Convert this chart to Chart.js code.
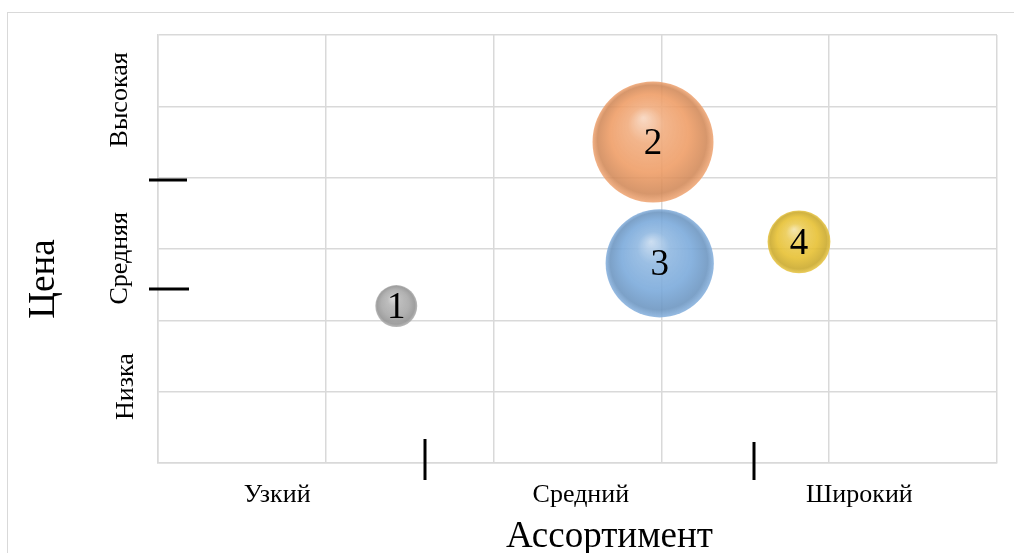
<!DOCTYPE html>
<html>
<head>
<meta charset="utf-8">
<script src="https://cdn.jsdelivr.net/npm/chart.js@4"></script>
<style>
  html, body { margin: 0; padding: 0; background: #fff; }
  #wrap { position: relative; width: 1014px; height: 553px; overflow: hidden; }
  #frame { position: absolute; left: 7px; top: 12px; width: 1100px; height: 600px; border: 1.5px solid #d9d9d9; box-sizing: border-box; }
  canvas { position: absolute; left: 0; top: 0; }
</style>
</head>
<body>
<div id="wrap"><div id="frame"></div><canvas id="c" width="1014" height="553"></canvas></div>
<script>
// ---- data ----
const labels = ['1', '2', '3', '4'];
const assortment = [1.42, 2.95, 2.99, 3.82];   // x values
const price = [2.20, 4.50, 2.80, 3.10];        // y values
const sizes = [12, 100, 80, 27];               // bubble size values
const baseColors = ['#a6a6a6', '#ee9b63', '#78a8da', '#e6bf2e'];
const xCatLabels = ['Узкий', 'Средний', 'Широкий'];
const xCatValues = [0.71, 2.52, 4.18];
const yCatLabels = ['Низка', 'Средняя', 'Высокая'];
const yCatValues = [1.07, 2.87, 5.09];
const xSeparators = [1.59, 3.55];
const ySeparators = [2.44, 3.97];
const xTitle = 'Ассортимент';
const yTitle = 'Цена';

const MAX_R = 60.5;
const maxSize = Math.max(...sizes);

function shade(hex, f) {
  const n = parseInt(hex.slice(1), 16);
  let r = (n >> 16) & 255, g = (n >> 8) & 255, b = n & 255;
  if (f >= 0) { r += (255 - r) * f; g += (255 - g) * f; b += (255 - b) * f; }
  else { r *= (1 + f); g *= (1 + f); b *= (1 + f); }
  return 'rgba(' + Math.round(r) + ',' + Math.round(g) + ',' + Math.round(b) + ',';
}

const points = labels.map((l, i) => ({ x: assortment[i], y: price[i], r: MAX_R * Math.sqrt(sizes[i] / maxSize) }));

const SERIF = "'Liberation Serif', 'Times New Roman', serif";

const overlay = {
  id: 'overlay',
  afterDatasetsDraw(chart) {
    const ctx = chart.ctx, xs = chart.scales.x, ys = chart.scales.y, area = chart.chartArea;
    ctx.save();
    // bubble numbers
    const meta = chart.getDatasetMeta(0);
    ctx.fillStyle = '#000';
    ctx.font = '37px ' + SERIF;
    ctx.textAlign = 'center';
    ctx.textBaseline = 'middle';
    meta.data.forEach((el, i) => { ctx.fillText(labels[i], el.x, el.y + 2); });
    // x category labels
    ctx.font = '26px ' + SERIF;
    ctx.textBaseline = 'alphabetic';
    xCatLabels.forEach((t, i) => ctx.fillText(t, xs.getPixelForValue(xCatValues[i]), area.bottom + 39));
    // y category labels (rotated)
    yCatLabels.forEach((t, i) => {
      ctx.save();
      ctx.translate(area.left - 31 + (i === 0 ? 6 : 0), ys.getPixelForValue(yCatValues[i]));
      ctx.rotate(-Math.PI / 2);
      ctx.fillText(t, 0, 0);
      ctx.restore();
    });
    // axis titles
    ctx.font = '37px ' + SERIF;
    ctx.fillText(xTitle, (area.left + area.right) / 2 + 32, area.bottom + 84);
    ctx.save();
    ctx.translate(area.left - 104, (area.top + area.bottom) / 2 + 30);
    ctx.rotate(-Math.PI / 2);
    ctx.fillText(yTitle, 0, 0);
    ctx.restore();
    // separators
    ctx.strokeStyle = '#000';
    ctx.lineWidth = 3;
    xSeparators.forEach((v, i) => {
      const px = Math.round(xs.getPixelForValue(v));
      ctx.beginPath();
      ctx.moveTo(px, area.bottom - 24 + i * 3);
      ctx.lineTo(px, area.bottom + 17);
      ctx.stroke();
    });
    ySeparators.forEach((v, i) => {
      const py = Math.round(ys.getPixelForValue(v));
      ctx.beginPath();
      ctx.moveTo(area.left - 9, py);
      ctx.lineTo(area.left + 29 + (i === 0 ? 2 : 0), py);
      ctx.stroke();
    });
    ctx.restore();
  }
};

new Chart(document.getElementById('c'), {
  type: 'bubble',
  data: {
    datasets: [{
      data: points,
      borderWidth: 0,
      backgroundColor: (c) => {
        const base = baseColors[c.dataIndex % baseColors.length];
        const chart = c.chart;
        if (c.type !== 'data' || !chart.chartArea || !c.raw) return base;
        const x = chart.scales.x.getPixelForValue(c.raw.x);
        const y = chart.scales.y.getPixelForValue(c.raw.y);
        const r = c.raw.r;
        const g = chart.ctx.createRadialGradient(x - 0.16 * r, y - 0.4 * r, 0, x, y, r);
        g.addColorStop(0, shade(base, 0.6) + '0.92)');
        g.addColorStop(0.3, shade(base, 0.18) + '0.9)');
        g.addColorStop(0.65, shade(base, 0) + '0.88)');
        g.addColorStop(0.9, shade(base, -0.12) + '0.88)');
        g.addColorStop(1, shade(base, 0.05) + '0.82)');
        return g;
      }
    }]
  },
  options: {
    responsive: false,
    animation: false,
    events: [],
    layout: { autoPadding: false, padding: { left: 158, top: 35, right: 17, bottom: 90 } },
    plugins: { legend: { display: false }, tooltip: { enabled: false } },
    scales: {
      x: {
        type: 'linear', min: 0, max: 5,
        ticks: { display: false, stepSize: 1 },
        grid: { color: '#d9d9d9', lineWidth: 1.5, drawTicks: false },
        border: { display: true, color: '#d9d9d9', width: 1.5 }
      },
      y: {
        type: 'linear', min: 0, max: 6,
        ticks: { display: false, stepSize: 1 },
        grid: { color: '#d9d9d9', lineWidth: 1.5, drawTicks: false },
        border: { display: true, color: '#d9d9d9', width: 1.5 }
      }
    }
  },
  plugins: [overlay]
});
</script>
</body>
</html>
